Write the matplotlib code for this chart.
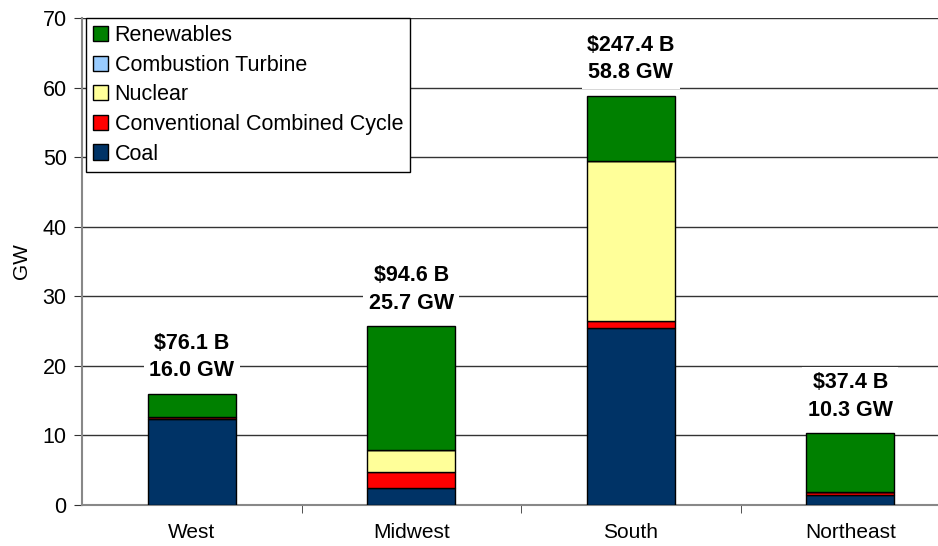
import numpy as np
import matplotlib
matplotlib.use("Agg")
import matplotlib.pyplot as plt
from matplotlib.patches import Patch

plt.rcParams['font.family'] = ['Liberation Sans', 'DejaVu Sans']

regions = ['West', 'Midwest', 'South', 'Northeast']
coal = [12.4, 2.4, 25.5, 1.4]
ccc = [0.2, 2.3, 0.9, 0.4]
nuclear = [0.0, 3.2, 23.0, 0.0]
ct = [0.0, 0.0, 0.0, 0.0]
renew = [3.4, 17.8, 9.4, 8.5]
cost_labels = ['$76.1 B', '$94.6 B', '$247.4 B', '$37.4 B']
gw_labels = ['16.0 GW', '25.7 GW', '58.8 GW', '10.3 GW']

series = [('Coal', coal, '#003366'),
          ('Conventional Combined Cycle', ccc, '#FF0000'),
          ('Nuclear', nuclear, '#FFFF99'),
          ('Combustion Turbine', ct, '#99CCFF'),
          ('Renewables', renew, '#008000')]

fig = plt.figure(figsize=(9.38, 5.46), dpi=100)
ax = fig.add_axes([82/938, 41/546, 878/938, 487/546])

x = np.arange(len(regions))
bottom = np.zeros(len(regions))
for name, vals, col in series:
    vals = np.array(vals)
    ax.bar(x, vals, 0.4, bottom=bottom, color=col, edgecolor='black',
           linewidth=1.0, zorder=3)
    bottom += vals

# total labels above each stack, white box cuts the gridline
for i in range(len(regions)):
    ax.annotate(cost_labels[i].replace('$', r'\$') + '\n' + gw_labels[i],
                xy=(x[i], bottom[i]), xytext=(0, 9), textcoords='offset points',
                ha='center', va='bottom', fontsize=15.5, fontweight='bold',
                linespacing=1.4, zorder=4,
                bbox=dict(boxstyle='square,pad=0.25', fc='white', ec='none'))

ax.set_xlim(-0.5, 3.5)
ax.set_ylim(0, 70)
ax.set_yticks(range(0, 71, 10))
ax.yaxis.grid(True, color='#333333', linewidth=1.0, zorder=0)
ax.set_axisbelow(True)
ax.set_xticks(x)
ax.set_xticklabels(regions, fontsize=15)
ax.set_xticks([0.5, 1.5, 2.5], minor=True)
ax.tick_params(axis='x', which='major', length=0, pad=13)
ax.tick_params(axis='x', which='minor', length=6, color='#333333')
ax.tick_params(axis='y', labelsize=15.5, length=6, color='#333333', pad=5)
ax.set_ylabel('GW', fontsize=15, labelpad=8)

for s in ['top', 'right']:
    ax.spines[s].set_visible(False)
ax.spines['left'].set_color('#888888')
ax.spines['bottom'].set_color('#888888')
ax.spines['left'].set_linewidth(1.5)
ax.spines['bottom'].set_linewidth(1.5)

handles = [Patch(facecolor=col, edgecolor='black', label=name)
           for name, vals, col in series[::-1]]
leg = ax.legend(handles=handles, loc='upper left', bbox_to_anchor=(4/878, 1.0),
                fontsize=15.5, frameon=True, fancybox=False, edgecolor='black',
                framealpha=1, handlelength=0.7, handleheight=0.7,
                handletextpad=0.3, labelspacing=0.4, borderpad=0.33,
                borderaxespad=0)
leg.get_frame().set_linewidth(1.0)
leg.set_zorder(5)

fig.savefig('out.png', dpi=100)
